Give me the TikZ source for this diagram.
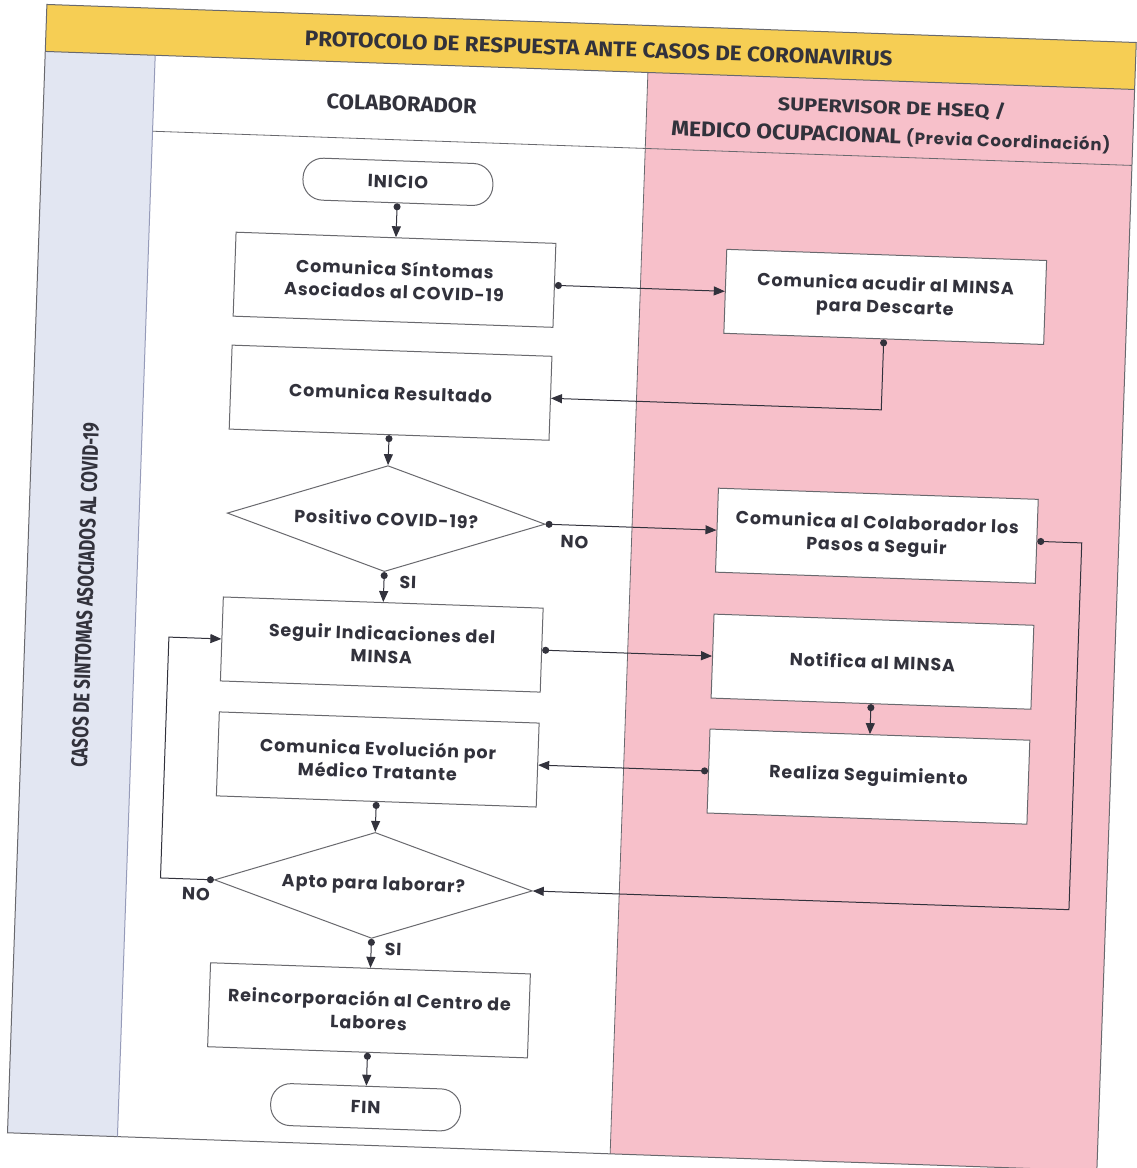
\documentclass[tikz,border=0pt]{standalone}
\usepackage{graphicx}
\usepackage{fontspec}
\setmainfont{Poppins}[LetterSpace=5]
\newfontfamily\condfont{Fira Sans}
\usetikzlibrary{shapes.geometric,arrows.meta}
\definecolor{hdryellow}{RGB}{246,206,84}
\definecolor{lanepink}{RGB}{247,192,202}
\definecolor{laneblue}{RGB}{226,230,242}
\definecolor{inkgrey}{RGB}{50,50,60}
\definecolor{edgegrey}{RGB}{105,105,110}
\definecolor{laneedge}{RGB}{150,155,185}
\begin{document}
\begin{tikzpicture}[x=1pt,y=-1pt,
  every node/.style={text=inkgrey},
  boxtxt/.style={font=\fontsize{17.5}{23}\selectfont\bfseries, align=center},
  procbox/.style={boxtxt, draw=edgegrey, line width=1pt, fill=white, minimum width=320pt, minimum height=84pt, inner sep=2pt},
  termbox/.style={boxtxt, draw=edgegrey, line width=1pt, fill=white, rounded corners=20pt, minimum width=190pt, minimum height=42pt},
  decbox/.style={boxtxt, diamond, aspect=3, draw=edgegrey, line width=1pt, fill=white, minimum width=318pt, minimum height=106pt, inner sep=0pt},
  flow/.style={draw=inkgrey, line width=1pt, {Circle[length=7pt]}-{Triangle[length=11pt,width=9pt]}},
  lbl/.style={font=\fontsize{17.5}{20}\selectfont\bfseries},
  headtxt/.style={font=\condfont\bfseries, text=inkgrey, inner sep=1pt}
]
\useasboundingbox (0,0) rectangle (1137,1168);
\fill[white] (0,0) rectangle (1137,1168);
\begin{scope}[rotate around={-2:(568,584)}, transform shape]
  % lanes
  \fill[laneblue] (27,70) rectangle (137,1152);
  \fill[white] (137,70) rectangle (630,1152);
  \fill[lanepink] (630,70) rectangle (1117,1152);
  \fill[hdryellow] (27,23) rectangle (1117,70);
  \draw[edgegrey, line width=1pt] (27,23) rectangle (1117,1152);
  \draw[edgegrey, line width=1pt] (27,70) -- (1117,70);
  \draw[laneedge, line width=1pt] (137,70) -- (137,1152);
  \draw[edgegrey, line width=0.8pt] (630,70) -- (630,1152);
  \draw[edgegrey, line width=0.8pt] (137,146) -- (1117,146);
  % headers
  \node[headtxt] (title) at (580,48) {\resizebox{588pt}{15pt}{PROTOCOLO DE RESPUESTA ANTE CASOS DE CORONAVIRUS}};
  \node[headtxt] (colab) at (385,110) {\resizebox{150pt}{15pt}{COLABORADOR}};
  \node[inner sep=0pt, align=center, font=\fontsize{16.5}{29}\selectfont] (sup) at (875,112)
    {\resizebox{228pt}{15pt}{\condfont\bfseries SUPERVISOR DE HSEQ /}\\
     \resizebox{230pt}{15pt}{\condfont\bfseries MEDICO OCUPACIONAL}\hspace{5pt}{\bfseries (Previa Coordinación)}};
  \node[headtxt, rotate=90] (lane) at (86,612) {\resizebox{345pt}{16pt}{CASOS DE SINTOMAS ASOCIADOS AL COVID-19}};
  % flow nodes
  \node[termbox] (ini) at (384,188) {INICIO};
  \node[procbox] (s1) at (384,286) {Comunica Síntomas\\Asociados al COVID-19};
  \node[procbox] (acu) at (875,286) {Comunica acudir al MINSA\\para Descarte};
  \node[procbox] (res) at (384,399) {Comunica Resultado};
  \node[decbox] (pos) at (384,525) {Positivo COVID-19?};
  \node[procbox] (pas) at (875,525) {Comunica al Colaborador los\\Pasos a Seguir};
  \node[procbox] (seg) at (384,651) {Seguir Indicaciones del\\MINSA};
  \node[procbox] (notif) at (875,651) {Notifica al MINSA};
  \node[procbox] (evo) at (384,766) {Comunica Evolución por\\Médico Tratante};
  \node[procbox] (real) at (875,766) {Realiza Seguimiento};
  \node[decbox] (apto) at (384,892) {Apto para laborar?};
  \node[procbox] (reinc) at (384,1017) {Reincorporación al Centro de\\Labores};
  \node[termbox] (fin) at (384,1114) {FIN};
  % labels
  \node[lbl] (noA) at (573,542) {NO};
  \node[lbl] (siA) at (408,588) {SI};
  \node[lbl] (noB) at (207,907) {NO};
  \node[lbl] (siB) at (406,955) {SI};
  % corners
  \coordinate (c1) at (875,399);
  \coordinate (c2) at (171,892);
  \coordinate (c3) at (171,651);
  \coordinate (c4) at (1080,525);
  \coordinate (c5) at (1080,892);
  % connectors
  \draw[flow] (ini.south) -- (s1.north);
  \draw[flow] (s1.east) -- (acu.west);
  \draw[flow] (acu.south) -- (c1) -- (res.east);
  \draw[flow] (res.south) -- (pos.north);
  \draw[flow] (pos.east) -- (pas.west);
  \draw[flow] (pos.south) -- (seg.north);
  \draw[flow] (seg.east) -- (notif.west);
  \draw[flow] (notif.south) -- (real.north);
  \draw[flow] (real.west) -- (evo.east);
  \draw[flow] (evo.south) -- (apto.north);
  \draw[flow] (apto.west) -- (c2) -- (c3) -- (seg.west);
  \draw[flow] (pas.east) -- (c4) -- (c5) -- (apto.east);
  \draw[flow] (apto.south) -- (reinc.north);
  \draw[flow] (reinc.south) -- (fin.north);
\end{scope}
\end{tikzpicture}
\end{document}
